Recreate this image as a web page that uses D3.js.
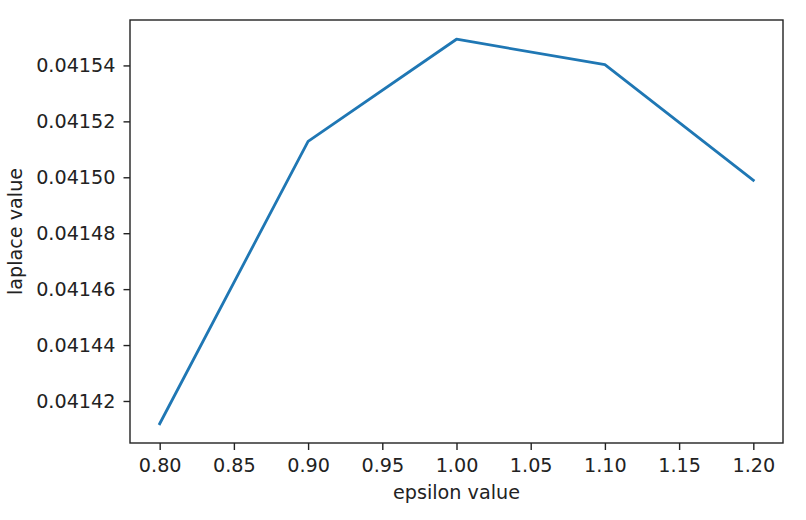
<!DOCTYPE html>
<html>
<head>
<meta charset="utf-8">
<script src="https://cdn.jsdelivr.net/npm/d3@7"></script>
<style>
  html, body { margin: 0; padding: 0; background: #fff; }
  svg { display: block; }
  text { font-family: "DejaVu Sans", sans-serif; fill: #222; }
</style>
</head>
<body>
<svg id="chart" width="806" height="520"></svg>
<script>
const epsilonValues = [0.80, 0.90, 1.00, 1.10, 1.20];
const laplaceValues = [0.04141185, 0.04151285, 0.04154937, 0.04154025, 0.04149893];
const xTickValues = [0.80, 0.85, 0.90, 0.95, 1.00, 1.05, 1.10, 1.15, 1.20];
const yTickValues = [0.04142, 0.04144, 0.04146, 0.04148, 0.04150, 0.04152, 0.04154];
const xLabel = "epsilon value";
const yLabel = "laplace value";

const svg = d3.select("#chart");
const plotLeft = 130, plotRight = 783, plotTop = 20, plotBottom = 443;
const fontSize = 19.2;

function padded(ext) {
  const r = ext[1] - ext[0];
  return [ext[0] - 0.05 * r, ext[1] + 0.05 * r];
}
const x = d3.scaleLinear().domain(padded(d3.extent(epsilonValues))).range([plotLeft, plotRight]);
const y = d3.scaleLinear().domain(padded(d3.extent(laplaceValues))).range([plotBottom, plotTop]);

const xAxis = d3.axisBottom(x).tickValues(xTickValues).tickFormat(d3.format(".2f")).tickSize(7).tickPadding(8);
const yAxis = d3.axisLeft(y).tickValues(yTickValues).tickFormat(d3.format(".5f")).tickSize(6.5).tickPadding(8);

const gx = svg.append("g").attr("transform", `translate(0,${plotBottom})`).call(xAxis);
const gy = svg.append("g").attr("transform", `translate(${plotLeft},0)`).call(yAxis);
[gx, gy].forEach(g => {
  g.select(".domain").remove();
  g.selectAll(".tick line").attr("stroke", "#222").attr("stroke-width", 1.4);
  g.selectAll(".tick text").attr("font-size", fontSize).attr("font-family", "DejaVu Sans").attr("fill", "#222");
});

// line
const line = d3.line().x((d, i) => x(epsilonValues[i])).y(d => y(d));
svg.append("path")
  .datum(laplaceValues)
  .attr("fill", "none")
  .attr("stroke", "#1f77b4")
  .attr("stroke-width", 2.8)
  .attr("stroke-linecap", "square")
  .attr("stroke-linejoin", "round")
  .attr("d", line);

// frame
svg.append("rect")
  .attr("x", plotLeft).attr("y", plotTop)
  .attr("width", plotRight - plotLeft).attr("height", plotBottom - plotTop)
  .attr("fill", "none").attr("stroke", "#222").attr("stroke-width", 1.4);

// axis labels
svg.append("text")
  .attr("x", (plotLeft + plotRight) / 2).attr("y", 499)
  .attr("text-anchor", "middle").attr("font-size", fontSize)
  .text(xLabel);
svg.append("text")
  .attr("transform", `translate(22,${(plotTop + plotBottom) / 2}) rotate(-90)`)
  .attr("text-anchor", "middle").attr("font-size", fontSize)
  .text(yLabel);
</script>
</body>
</html>
